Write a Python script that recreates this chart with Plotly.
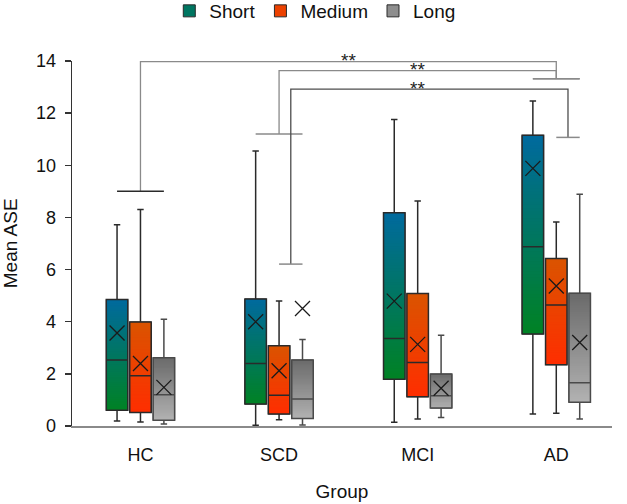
import plotly.graph_objects as go

# ---------------- data ----------------
groups = ["HC", "SCD", "MCI", "AD"]
series = ["Short", "Medium", "Long"]

short_upper = [7.72, 10.55, 11.76, 12.47]
short_q3 = [4.85, 4.87, 8.18, 11.15]
short_median = [2.53, 2.40, 3.36, 6.88]
short_q1 = [0.60, 0.84, 1.79, 3.53]
short_lower = [0.19, 0.03, 0.14, 0.46]
short_mean = [3.57, 4.00, 4.79, 9.88]

medium_upper = [8.30, 4.79, 8.63, 7.82]
medium_q3 = [3.99, 3.08, 5.08, 6.42]
medium_median = [1.93, 1.18, 2.44, 4.64]
medium_q1 = [0.52, 0.46, 1.12, 2.35]
medium_lower = [0.15, 0.24, 0.27, 0.49]
medium_mean = [2.40, 2.12, 3.13, 5.37]

long_upper = [4.09, 3.32, 3.48, 8.89]
long_q3 = [2.62, 2.53, 1.99, 5.09]
long_median = [1.20, 1.04, 1.16, 1.66]
long_q1 = [0.22, 0.29, 0.69, 0.91]
long_lower = [0.08, 0.04, 0.33, 0.27]
long_mean = [1.48, 4.51, 1.45, 3.20]

# significance brackets: (from group, to group, top value, left foot, right foot, label)
sig_from = ["HC", "SCD", "SCD"]
sig_to = ["AD", "AD", "AD"]
sig_top = [13.98, 13.63, 12.92]
sig_left_foot = [9.0, 11.2, 6.21]
sig_right_foot = [13.32, 13.32, 11.07]
sig_label = ["**", "**", "**"]

x_title = "Group"
y_title = "Mean ASE"

# ---------------- styling ----------------
FONT = "Liberation Sans, Arial, sans-serif"
OFF = 0.169      # spacing between series boxes (x units)
BW = 0.155       # box width (x units)
offsets = {"Short": -OFF, "Medium": 0.0, "Long": OFF}
grad = {
    "Short": ((0, 106, 158), (0, 130, 36)),
    "Medium": ((218, 84, 0), (255, 46, 0)),
    "Long": ((106, 106, 106), (178, 178, 178)),
}
line_col = {"Short": "#2a2a2a", "Medium": "#2a2a2a", "Long": "#4a4a4a"}
bracket_offset = [0.0, 0.0, OFF * 0.5]   # where each bracket leg lands inside the group
cap_span = [(-OFF, OFF), (-OFF, OFF), (0.0, OFF)]
bracket_col = ["#8a8a8a", "#8a8a8a", "#4d4d4d"]

stats = {
    "Short": (short_lower, short_q1, short_median, short_q3, short_upper, short_mean),
    "Medium": (medium_lower, medium_q1, medium_median, medium_q3, medium_upper, medium_mean),
    "Long": (long_lower, long_q1, long_median, long_q3, long_upper, long_mean),
}


def mix(c1, c2, t):
    return "rgb(%d,%d,%d)" % tuple(round(a + (b - a) * t) for a, b in zip(c1, c2))


fig = go.Figure()
NSEG = 60
gidx = {g: i for i, g in enumerate(groups)}

# gradient fills (bars)
for s in series:
    lo, q1, med, q3, up, mn = stats[s]
    top, bot = grad[s]
    xs, bases, hs, cols, lws = [], [], [], [], []
    for i, g in enumerate(groups):
        x = i + offsets[s]
        # full box first (also gives the legend swatch its colour)
        xs.append(x); bases.append(q1[i]); hs.append(q3[i] - q1[i])
        cols.append(mix(top, bot, 0.5)); lws.append(1)
    for i, g in enumerate(groups):
        x = i + offsets[s]
        h = (q3[i] - q1[i]) / NSEG
        for k in range(NSEG):
            t = 1 - (k + 0.5) / NSEG
            xs.append(x); bases.append(q1[i] + k * h); hs.append(h * 1.6 if k < NSEG - 1 else h)
            cols.append(mix(top, bot, t)); lws.append(0)
    fig.add_trace(go.Bar(
        x=xs, y=hs, base=bases, width=BW, name=s,
        marker=dict(color=cols, line=dict(color="#2a2a2a", width=lws)),
        hoverinfo="skip", showlegend=True,
    ))

# box outlines, medians and whiskers
for s in series:
    lo, q1, med, q3, up, mn = stats[s]
    fig.add_trace(go.Box(
        x=[i + offsets[s] for i in range(len(groups))],
        q1=q1, median=med, q3=q3, lowerfence=lo, upperfence=up,
        width=BW, whiskerwidth=0.3, boxpoints=False,
        fillcolor="rgba(0,0,0,0)", line=dict(color=line_col[s], width=1.5),
        showlegend=False, name=s,
    ))

# means
for s in series:
    mn = stats[s][5]
    fig.add_trace(go.Scatter(
        x=[i + offsets[s] for i in range(len(groups))], y=mn, mode="markers",
        marker=dict(symbol="x-thin", size=15, line=dict(color="#1a1a1a", width=1.3)),
        showlegend=False, hoverinfo="skip",
    ))

# significance brackets
for b in range(len(sig_label)):
    xl = gidx[sig_from[b]] + bracket_offset[b]
    xr = gidx[sig_to[b]] + bracket_offset[b]
    fig.add_trace(go.Scatter(
        x=[xl, xl, xr, xr], y=[sig_left_foot[b], sig_top[b], sig_top[b], sig_right_foot[b]],
        mode="lines", line=dict(color=bracket_col[b], width=1.3),
        showlegend=False, hoverinfo="skip", cliponaxis=False,
    ))
    for gname, foot in ((sig_from[b], sig_left_foot[b]), (sig_to[b], sig_right_foot[b])):
        gi = gidx[gname]
        fig.add_trace(go.Scatter(
            x=[gi + cap_span[b][0], gi + cap_span[b][1]], y=[foot, foot],
            mode="lines", line=dict(color="#8a8a8a" if not (gname == "HC") else "#2a2a2a", width=1.5),
            showlegend=False, hoverinfo="skip",
        ))
    fig.add_annotation(
        x=(gidx[sig_from[b]] + gidx[sig_to[b]]) / 2, y=sig_top[b], text=sig_label[b],
        showarrow=False, yanchor="middle", xanchor="center", yshift=1,
        font=dict(family=FONT, size=19, color="#222"),
    )

# y-axis title (as a rotated label left of the tick labels)
fig.add_annotation(
    xref="paper", yref="paper", x=-0.1135, y=0.5, text=y_title, textangle=-90,
    showarrow=False, xanchor="center", yanchor="middle",
    font=dict(family=FONT, size=19, color="#111"),
)

fig.update_layout(
    width=627, height=504,
    margin=dict(l=72, r=15, t=61, b=78, autoexpand=False),
    paper_bgcolor="white", plot_bgcolor="white",
    barmode="overlay", boxmode="overlay", bargap=0,
    font=dict(family=FONT, size=18, color="#111"),
    showlegend=True,
    legend=dict(orientation="h", xref="container", yref="paper",
                x=0.27, xanchor="left", y=1.137, yanchor="middle",
                font=dict(family=FONT, size=19, color="#111"),
                itemclick=False, traceorder="normal"),
    xaxis=dict(range=[-0.494, 3.402], tickvals=list(range(len(groups))), ticktext=groups,
               showline=True, linecolor="#8a8a8a", linewidth=1.5, ticks="",
               showgrid=False, zeroline=False, ticklabelstandoff=12, automargin=True,
               tickfont=dict(family=FONT, size=18, color="#111"),
               title=dict(text=x_title, standoff=20, font=dict(family=FONT, size=19, color="#111"))),
    yaxis=dict(range=[0, 14], dtick=2, showline=True, linecolor="#333", linewidth=1.3,
               ticks="outside", ticklen=6, tickcolor="#333", tickwidth=1.3,
               showgrid=False, zeroline=False, ticklabelstandoff=5, automargin=True,
               tickfont=dict(family=FONT, size=18, color="#111")),
)

# remove the default page margin, then draw again so that every label is measured in place
post = ("document.body.style.margin='0';"
        "var gd=document.getElementById('{plot_id}');"
        "Plotly.newPlot(gd, gd.data, gd.layout, {displayModeBar:false, staticPlot:true});")
fig.write_html("out.html", post_script=post, config={"displayModeBar": False})
